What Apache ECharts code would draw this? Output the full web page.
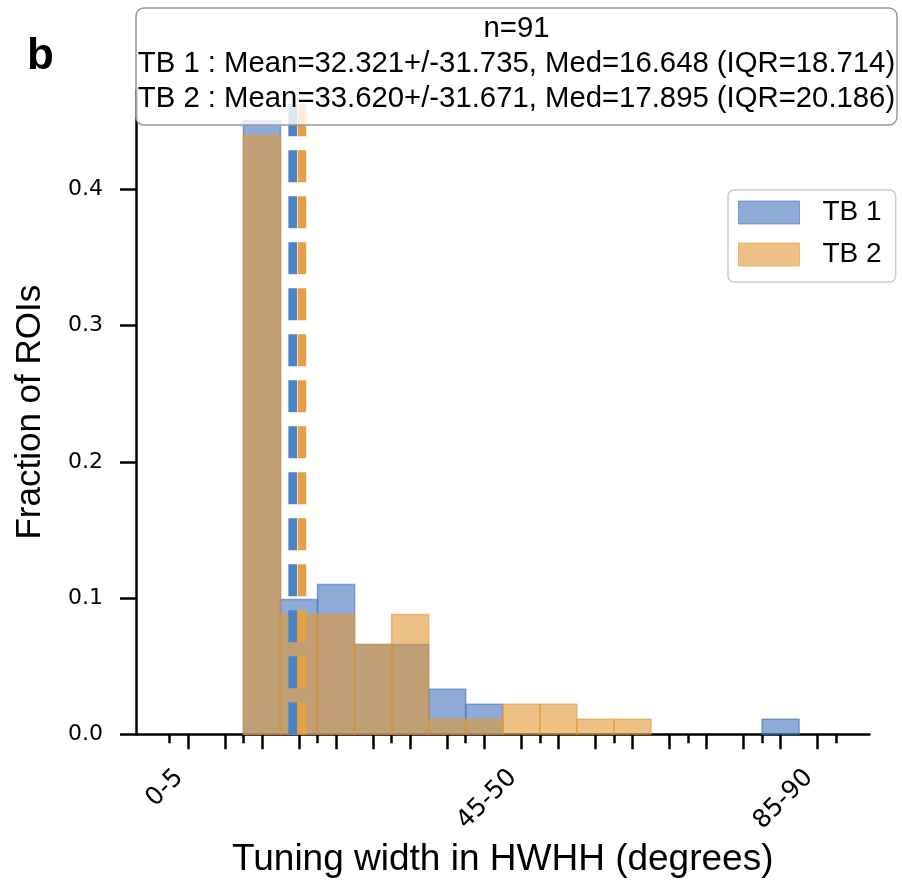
<!DOCTYPE html>
<html>
<head>
<meta charset="utf-8">
<script src="https://cdn.jsdelivr.net/npm/echarts@6/dist/echarts.min.js"></script>
<style>html,body{margin:0;padding:0;background:#fff}#c{width:902px;height:883px}</style>
</head>
<body>
<div id="c"></div>
<script>
// ---- data ----
const binLow  = [0,5,10,15,20,25,30,35,40,45,50,55,60,65,70,75,80,85];
const binHigh = [5,10,15,20,25,30,35,40,45,50,55,60,65,70,75,80,85,90];
const tb1Frac = [0,0,0.4505,0.0989,0.1099,0.0659,0.0659,0.0330,0.0220,0,0,0,0,0,0,0,0.0110,0];
const tb2Frac = [0,0,0.4396,0.0879,0.0879,0.0659,0.0879,0.0110,0.0110,0.0220,0.0220,0.0110,0.0110,0,0,0,0,0];
const tb1Median = 16.648;
const tb2Median = 17.895;
const xTickLabels = ['0-5','45-50','85-90'];
const yTicks = [0,0.1,0.2,0.3,0.4];
const minorTicks = [0,10,20,30,40,50,60,70,80,90];
const statsLines = [
  'n=91',
  'TB 1 : Mean=32.321+/-31.735, Med=16.648 (IQR=18.714)',
  'TB 2 : Mean=33.620+/-31.671, Med=17.895 (IQR=20.186)'
];
const seriesNames = ['TB 1','TB 2'];

// ---- styles ----
const blueFill = 'rgba(67,113,187,0.6)';
const orangeFill = 'rgba(225,152,52,0.6)';
const blueLine = '#4a84c4';
const orangeLine = '#e6a043';
const sans = "'Liberation Sans', Arial, sans-serif";
const deja = "'DejaVu Sans', sans-serif";

const X_MIN = -4.5, X_MAX = 94.5, Y_MAX = 0.473;

const binCenters = binLow.map((l,i)=>(l+binHigh[i])/2);
const labelPos = xTickLabels.map(s=>{const p=s.split('-').map(Number);return (p[0]+p[1])/2;});
const labelMap = {};
labelPos.forEach((v,i)=>labelMap[v]=xTickLabels[i]);

function histData(frac){
  return frac.map((v,i)=>[binLow[i],binHigh[i],v]).filter(d=>d[2]>0);
}
function rectRender(color){
  return function(params, api){
    const p0 = api.coord([api.value(0), 0]);
    const p1 = api.coord([api.value(1), api.value(2)]);
    return {
      type:'rect',
      shape:{x:p0[0], y:p1[1], width:p1[0]-p0[0], height:p0[1]-p1[1]},
      style:{fill:color, stroke:color, lineWidth:1.5}
    };
  };
}

const chart = echarts.init(document.getElementById('c'), null, {renderer:'canvas'});
chart.setOption({
  animation:false,
  backgroundColor:'#fff',
  grid:{left:136, right:32.5, top:90, bottom:148, containLabel:false},
  legend:{
    orient:'vertical', left:728, top:190,
    itemWidth:61, itemHeight:23, itemGap:14,
    padding:[8.5,14,13.5,10],
    borderColor:'#cccccc', borderWidth:1.5, borderRadius:6,
    backgroundColor:'rgba(255,255,255,0.8)',
    textStyle:{fontSize:28, fontFamily:sans, color:'#000', padding:[0,0,0,18]},
    data:[
      {name:seriesNames[0], icon:'rect', itemStyle:{color:blueFill, borderColor:blueFill, borderWidth:1}},
      {name:seriesNames[1], icon:'rect', itemStyle:{color:orangeFill, borderColor:orangeFill, borderWidth:1}}
    ],
    selectedMode:false
  },
  xAxis:[{
    type:'value', min:X_MIN, max:X_MAX, position:'bottom',
    name:'Tuning width in HWHH (degrees)', nameLocation:'middle', nameGap:104,
    nameTextStyle:{fontSize:37, fontFamily:sans, color:'#000'},
    axisLine:{show:true, onZero:false, lineStyle:{color:'#000', width:2.5}},
    axisTick:{show:true, customValues:binCenters, length:15, lineStyle:{color:'#000', width:2.5}},
    axisLabel:{show:true, customValues:labelPos, rotate:45, margin:31, padding:[0,12,0,0],
      fontSize:25, fontFamily:deja, color:'#000', formatter:v=>labelMap[v]||''},
    splitLine:{show:false}
  },{
    type:'value', min:X_MIN, max:X_MAX, position:'bottom',
    axisLine:{show:false, onZero:false},
    axisTick:{show:true, customValues:minorTicks, length:9, lineStyle:{color:'#000', width:2.5}},
    axisLabel:{show:false},
    splitLine:{show:false}
  }],
  yAxis:{
    type:'value', min:0, max:Y_MAX,
    name:'Fraction of ROIs', nameLocation:'middle', nameGap:88,
    nameTextStyle:{fontSize:35, fontFamily:sans, color:'#000'},
    axisLine:{show:true, onZero:false, lineStyle:{color:'#000', width:2.5}},
    axisTick:{show:true, customValues:yTicks, length:16, lineStyle:{color:'#000', width:2.5}},
    axisLabel:{show:true, customValues:yTicks, margin:33, fontSize:22, fontFamily:deja, color:'#000',
      formatter:v=>v.toFixed(1)},
    splitLine:{show:false}
  },
  series:[
    {name:seriesNames[0], type:'custom', renderItem:rectRender(blueFill), data:histData(tb1Frac),
     encode:{x:[0,1], y:2}, itemStyle:{color:blueFill}, z:2},
    {name:seriesNames[1], type:'custom', renderItem:rectRender(orangeFill), data:histData(tb2Frac),
     encode:{x:[0,1], y:2}, itemStyle:{color:orangeFill}, z:3},
    {name:'TB 1 median', type:'line', data:[[tb1Median,0],[tb1Median,Y_MAX]], showSymbol:false, symbol:'none',
     lineStyle:{color:blueLine, width:8.6, type:[32,14], cap:'butt'}, z:4, silent:true},
    {name:'TB 2 median', type:'line', data:[[tb2Median,0],[tb2Median,Y_MAX]], showSymbol:false, symbol:'none',
     lineStyle:{color:orangeLine, width:8.6, type:[32,14], cap:'butt'}, z:5, silent:true}
  ],
  graphic:[
    {type:'rect', z:100, shape:{x:136, y:8, width:761, height:117, r:8},
     style:{fill:'rgba(255,255,255,0.8)', stroke:'#999999', lineWidth:1.5}},
    {type:'text', z:101, x:516.5, y:64,
     style:{text:statsLines.join('\n'), fill:'#000', font:"29.3px 'Liberation Sans', Arial, sans-serif",
       align:'center', verticalAlign:'middle', lineHeight:35}},
    {type:'text', z:101, x:27, y:57,
     style:{text:'b', fill:'#000', font:"bold 44px 'Liberation Sans', Arial, sans-serif",
       align:'left', verticalAlign:'middle'}}
  ]
});
</script>
</body>
</html>
